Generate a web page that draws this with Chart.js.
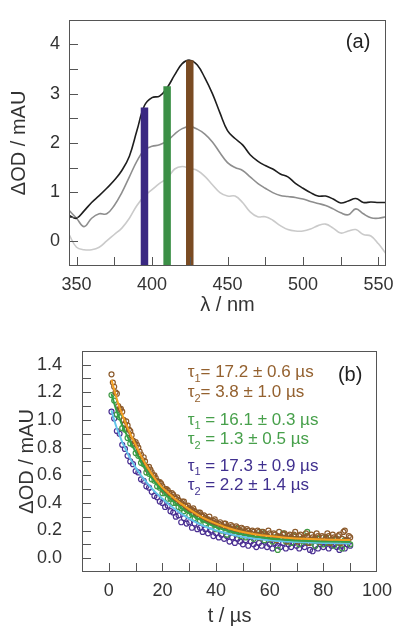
<!DOCTYPE html>
<html>
<head>
<meta charset="utf-8">
<script src="https://cdn.jsdelivr.net/npm/chart.js@4.4.1/dist/chart.umd.min.js"></script>
<style>
  html, body { margin: 0; padding: 0; background: #fff; }
  canvas { position: absolute; left: 0; }
  #espectros { top: 0; }
  #cineticas { top: 320px; }
</style>
</head>
<body>
<canvas id="espectros" width="405" height="320"></canvas>
<canvas id="cineticas" width="405" height="318"></canvas>
<script>
'use strict';

// ---- (a) espectros ----
const longitudes = [345, 350, 355, 360, 365, 370, 375, 380, 385, 390, 395, 400, 405, 410, 415, 420, 425, 430, 435, 440,
    445, 450, 455, 460, 465, 470, 475, 480, 485, 490, 495, 500, 505, 510, 515, 520, 525, 530, 535, 540, 545, 550, 555];
const espectroNegro = [0.53, 0.47, 0.62, 0.79, 0.93, 1.08, 1.24, 1.44, 1.73, 2.25, 2.76, 2.92, 2.95, 3.12, 3.38, 3.61, 3.68, 3.58, 3.32, 3.00,
    2.61, 2.25, 2.09, 1.96, 1.76, 1.63, 1.54, 1.47, 1.37, 1.31, 1.18, 1.08, 0.99, 0.92, 0.92, 0.86, 0.78, 0.82, 0.87, 0.79, 0.80, 0.79, 0.79];
const espectroGris = [0.63, 0.47, 0.30, 0.47, 0.56, 0.56, 0.73, 0.99, 1.31, 1.63, 1.86, 1.93, 1.96, 2.04, 2.18, 2.29, 2.33, 2.28, 2.18, 2.02,
    1.80, 1.60, 1.50, 1.44, 1.31, 1.18, 1.08, 0.99, 0.93, 0.91, 0.89, 0.86, 0.81, 0.77, 0.73, 0.66, 0.58, 0.54, 0.66, 0.56, 0.48, 0.47, 0.50];
const espectroClaro = [0.14, -0.12, -0.17, -0.17, -0.12, 0.01, 0.14, 0.27, 0.47, 0.73, 0.92, 1.05, 1.18, 1.28, 1.47, 1.52, 1.48, 1.44, 1.32, 1.15,
    0.99, 0.92, 0.92, 0.79, 0.60, 0.50, 0.50, 0.43, 0.32, 0.24, 0.21, 0.21, 0.25, 0.32, 0.35, 0.27, 0.17, 0.21, 0.24, 0.14, 0.11, -0.05, -0.25];

// bandas de deteccion
const bandasX = [395, 410, 425];
const bandasTope = [2.72, 3.15, 3.68];
const bandasColor = ['#3a2882', '#3b8f46', '#7a4b23'];

const ticksXA = [350, 400, 450, 500, 550];
const marcasXA = [350, 375, 400, 425, 450, 475, 500, 525, 550];
const ticksYA = [0, 1, 2, 3, 4];
const marcasYA = [0, 0.5, 1, 1.5, 2, 2.5, 3, 3.5, 4];

// ---- (b) cineticas ----
const tiempos = [1, 2, 3, 4, 5, 6, 7, 8, 9, 10, 11, 12, 13, 14, 15, 16, 17, 18, 19, 20,
    21, 22, 23, 24, 25, 26, 27, 28, 29, 30, 31, 32, 33, 34, 35, 36, 37, 38, 39, 40,
    41, 42, 43, 44, 45, 46, 47, 48, 49, 50, 51, 52, 53, 54, 55, 56, 57, 58, 59, 60,
    61, 62, 63, 64, 65, 66, 67, 68, 69, 70, 71, 72, 73, 74, 75, 76, 77, 78, 79, 80,
    81, 82, 83, 84, 85, 86, 87, 88, 89, 90];
const tiemposMedios = [1.5, 2.5, 3.5, 4.5, 5.5, 6.5, 7.5, 8.5, 9.5, 10.5, 11.5, 12.5, 13.5, 14.5, 15.5, 16.5, 17.5, 18.5, 19.5, 20.5,
    21.5, 22.5, 23.5, 24.5, 25.5, 26.5, 27.5, 28.5, 29.5, 30.5, 31.5, 32.5, 33.5, 34.5, 35.5, 36.5, 37.5, 38.5, 39.5, 40.5,
    41.5, 42.5, 43.5, 44.5, 45.5, 46.5, 47.5, 48.5, 49.5, 50.5, 51.5, 52.5, 53.5, 54.5, 55.5, 56.5, 57.5, 58.5, 59.5, 60.5,
    61.5, 62.5, 63.5, 64.5, 65.5, 66.5, 67.5, 68.5, 69.5, 70.5, 71.5, 72.5, 73.5, 74.5, 75.5, 76.5, 77.5, 78.5, 79.5, 80.5,
    81.5, 82.5, 83.5, 84.5, 85.5, 86.5, 87.5, 88.5, 89.5];
const puntosMarron = [1.33, 1.24, 1.19, 1.08, 1.06, 0.97, 0.96, 0.92, 0.85, 0.84, 0.80, 0.75, 0.73, 0.66, 0.66, 0.62, 0.60, 0.56, 0.55, 0.52,
    0.50, 0.49, 0.45, 0.46, 0.43, 0.42, 0.40, 0.41, 0.37, 0.36, 0.35, 0.34, 0.32, 0.33, 0.30, 0.29, 0.28, 0.27, 0.27, 0.26,
    0.25, 0.24, 0.25, 0.23, 0.22, 0.23, 0.21, 0.22, 0.20, 0.21, 0.19, 0.20, 0.18, 0.19, 0.17, 0.19, 0.17, 0.18, 0.16, 0.18,
    0.15, 0.17, 0.16, 0.15, 0.17, 0.14, 0.16, 0.15, 0.17, 0.14, 0.16, 0.13, 0.15, 0.16, 0.13, 0.15, 0.14, 0.16, 0.12, 0.15,
    0.14, 0.16, 0.13, 0.15, 0.12, 0.17, 0.14, 0.20, 0.13, 0.15];
const puntosMarronMedios = [1.27, 1.20, 1.10, 1.08, 1.00, 0.99, 0.93, 0.89, 0.83, 0.82, 0.77, 0.71, 0.70, 0.64, 0.64, 0.60, 0.58, 0.55, 0.54, 0.49,
    0.50, 0.47, 0.47, 0.44, 0.44, 0.40, 0.41, 0.38, 0.38, 0.35, 0.36, 0.32, 0.33, 0.31, 0.31, 0.28, 0.30, 0.26, 0.28, 0.24,
    0.26, 0.23, 0.25, 0.22, 0.24, 0.20, 0.23, 0.19, 0.22, 0.18, 0.21, 0.17, 0.20, 0.16, 0.20, 0.15, 0.19, 0.16, 0.20, 0.14,
    0.18, 0.13, 0.19, 0.15, 0.18, 0.12, 0.17, 0.14, 0.19, 0.12, 0.17, 0.14, 0.18, 0.11, 0.17, 0.13, 0.18, 0.12, 0.16, 0.13,
    0.18, 0.11, 0.17, 0.14, 0.16, 0.11, 0.19, 0.13, 0.16];
const puntosVerde = [1.18, 1.14, 1.04, 1.02, 0.94, 0.93, 0.87, 0.83, 0.82, 0.76, 0.74, 0.69, 0.68, 0.62, 0.61, 0.57, 0.56, 0.52, 0.51, 0.47,
    0.47, 0.43, 0.43, 0.40, 0.40, 0.37, 0.36, 0.34, 0.35, 0.31, 0.32, 0.29, 0.30, 0.27, 0.28, 0.25, 0.27, 0.23, 0.25, 0.21,
    0.23, 0.20, 0.22, 0.17, 0.21, 0.19, 0.18, 0.21, 0.16, 0.19, 0.15, 0.18, 0.16, 0.14, 0.17, 0.15, 0.19, 0.13, 0.16, 0.14,
    0.12, 0.15, 0.06, 0.14, 0.18, 0.12, 0.14, 0.11, 0.16, 0.13, 0.10, 0.14, 0.12, 0.19, 0.11, 0.13, 0.09, 0.14, 0.12, 0.10,
    0.15, 0.11, 0.13, 0.09, 0.14, 0.11, 0.07, 0.13, 0.12, 0.10];
const puntosMorado = [1.06, 1.01, 0.92, 0.90, 0.82, 0.79, 0.74, 0.70, 0.68, 0.63, 0.62, 0.57, 0.56, 0.52, 0.51, 0.48, 0.45, 0.44, 0.41, 0.40,
    0.37, 0.38, 0.34, 0.33, 0.30, 0.31, 0.26, 0.29, 0.25, 0.26, 0.22, 0.25, 0.21, 0.22, 0.19, 0.21, 0.18, 0.20, 0.16, 0.18,
    0.15, 0.17, 0.14, 0.16, 0.12, 0.15, 0.11, 0.14, 0.12, 0.10, 0.13, 0.09, 0.12, 0.10, 0.08, 0.11, 0.09, 0.12, 0.08, 0.10,
    0.07, 0.11, 0.09, 0.08, 0.11, 0.07, 0.10, 0.08, 0.11, 0.09, 0.07, 0.10, 0.08, 0.11, 0.06, 0.05, 0.09, 0.07, 0.10, 0.08,
    0.11, 0.07, 0.09, 0.10, 0.08, 0.06, 0.09, 0.07, 0.10, 0.09];

// ajustes biexponenciales
const tiemposAjuste = [1, 2, 3, 4, 5, 6, 8, 10, 12, 14, 16, 18, 20, 22, 25, 28, 31, 34, 37, 40, 45, 50, 55, 60, 65, 70, 75, 80, 85, 90];
const ajusteNaranja = [1.29, 1.22, 1.15, 1.09, 1.04, 0.99, 0.90, 0.82, 0.74, 0.67, 0.61, 0.555, 0.51, 0.475, 0.425, 0.38, 0.34, 0.305, 0.275, 0.25,
    0.215, 0.19, 0.172, 0.16, 0.15, 0.143, 0.138, 0.135, 0.133, 0.131];
const ajusteVerde = [1.19, 1.12, 1.06, 1.01, 0.96, 0.92, 0.84, 0.77, 0.70, 0.635, 0.58, 0.53, 0.485, 0.445, 0.395, 0.35, 0.31, 0.28, 0.25, 0.225,
    0.195, 0.172, 0.155, 0.143, 0.135, 0.128, 0.124, 0.121, 0.12, 0.119];
const ajusteCian = [1.07, 1.00, 0.94, 0.89, 0.84, 0.80, 0.72, 0.655, 0.60, 0.55, 0.505, 0.465, 0.43, 0.395, 0.35, 0.31, 0.275, 0.245, 0.22, 0.20,
    0.175, 0.155, 0.14, 0.13, 0.122, 0.117, 0.113, 0.11, 0.108, 0.107];

const ticksXB = [0, 20, 40, 60, 80, 100];
const marcasXB = [0, 10, 20, 30, 40, 50, 60, 70, 80, 90];
const ticksYB = [0, 0.2, 0.4, 0.6, 0.8, 1.0, 1.2, 1.4];
const etiquetasYB = ['0.0', '0.2', '0.4', '0.6', '0.8', '1.0', '1.2', '1.4'];
const marcasYB = [0, 0.1, 0.2, 0.3, 0.4, 0.5, 0.6, 0.7, 0.8, 0.9, 1.0, 1.1, 1.2, 1.3, 1.4];

// textos de los tiempos de vida
const subindices = ['1', '2', '1', '2', '1', '2'];
const textosTau = ['= 17.2 ± 0.6 µs', '= 3.8 ± 1.0 µs', ' = 16.1 ± 0.3 µs', ' = 1.3 ± 0.5 µs', ' = 17.3 ± 0.9 µs', ' = 2.2 ± 1.4 µs'];
const coloresTau = ['#94612f', '#94612f', '#47a04b', '#47a04b', '#40308f', '#40308f'];
const posTauY = [1.345, 1.2, 1.0, 0.86, 0.667, 0.525];
const posTauX = 29.4;

const familia = "'Liberation Sans', Arial, sans-serif";
const fuenteTicks = { family: familia, size: 18 };
const fuenteTitulo = { family: familia, size: 20 };
const colorTexto = '#333';

const puntos = (xs, ys) => xs.map((x, i) => ({ x: x, y: ys[i] }));

// marco y marcas hacia dentro
const marcoYMarcas = {
    id: 'marcoYMarcas',
    afterDatasetsDraw(chart, args, opts) {
        const { ctx, chartArea: a, scales } = chart;
        ctx.save();
        ctx.strokeStyle = '#555';
        ctx.lineWidth = 1;
        ctx.beginPath();
        opts.xMarcas.forEach(v => {
            const px = Math.round(scales.x.getPixelForValue(v)) + 0.5;
            ctx.moveTo(px, a.bottom);
            ctx.lineTo(px, a.bottom - opts.largo);
        });
        opts.yMarcas.forEach(v => {
            const py = Math.round(scales.y.getPixelForValue(v)) + 0.5;
            ctx.moveTo(a.left, py);
            ctx.lineTo(a.left + opts.largo, py);
        });
        ctx.stroke();
        ctx.strokeRect(Math.round(a.left) + 0.5, Math.round(a.top) + 0.5, Math.round(a.width) - 1, Math.round(a.height) - 1);
        ctx.restore();
    }
};

// rotulos (a), (b) y tiempos de vida
const rotulos = {
    id: 'rotulos',
    afterDraw(chart, args, opts) {
        const { ctx, scales } = chart;
        ctx.save();
        ctx.textBaseline = 'middle';
        opts.lista.forEach(r => {
            const x = scales.x.getPixelForValue(r.x);
            const y = scales.y.getPixelForValue(r.y);
            ctx.fillStyle = r.color;
            if (r.sub) {
                ctx.textAlign = 'left';
                ctx.font = r.tam + 'px ' + familia;
                ctx.fillText('τ', x, y);
                let w = ctx.measureText('τ').width;
                ctx.font = Math.round(r.tam * 0.62) + 'px ' + familia;
                ctx.fillText(r.sub, x + w, y + r.tam * 0.38);
                w += ctx.measureText(r.sub).width;
                ctx.font = r.tam + 'px ' + familia;
                ctx.fillText(r.texto, x + w, y);
            } else {
                ctx.textAlign = 'center';
                ctx.font = r.tam + 'px ' + familia;
                ctx.fillText(r.texto, x, y);
            }
        });
        ctx.restore();
    }
};

function ejeX(min, max, ticks, titulo, alto, padTitulo) {
    return {
        type: 'linear', min: min, max: max,
        grid: { display: false, drawTicks: false }, border: { display: false },
        afterBuildTicks: s => { s.ticks = ticks.map(v => ({ value: v })); },
        afterFit: s => { s.height = alto; },
        ticks: { padding: 8, font: fuenteTicks, color: colorTexto, maxRotation: 0, autoSkip: false },
        title: { display: true, text: titulo, font: fuenteTitulo, color: colorTexto, padding: { top: 0, bottom: padTitulo } }
    };
}

function ejeY(min, max, ticks, etiquetas, ancho, padTicks, padTitulo) {
    return {
        type: 'linear', min: min, max: max,
        grid: { display: false, drawTicks: false }, border: { display: false },
        afterBuildTicks: s => { s.ticks = ticks.map(v => ({ value: v })); },
        afterFit: s => { s.width = ancho; },
        ticks: { padding: padTicks, font: fuenteTicks, color: colorTexto, autoSkip: false,
            callback: v => etiquetas[ticks.indexOf(v)] },
        title: { display: true, text: 'ΔOD / mAU', font: fuenteTitulo, color: colorTexto, padding: { top: padTitulo, bottom: 0 } }
    };
}

const yMinA = -0.5;

const datosBandas = bandasX.map((x, i) => ({
    label: 'banda ' + x,
    data: [{ x: x, y: yMinA }, { x: x, y: bandasTope[i] }],
    borderColor: bandasColor[i],
    borderWidth: 7.5,
    pointRadius: 0,
    tension: 0,
    order: 0
}));

const graficaEspectros = new Chart(document.getElementById('espectros'), {
    type: 'line',
    data: {
        datasets: datosBandas.concat([
            { label: 'negro', data: puntos(longitudes, espectroNegro), borderColor: '#1e1e1e', borderWidth: 1.6, pointRadius: 0, tension: 0.4, order: 1 },
            { label: 'gris', data: puntos(longitudes, espectroGris), borderColor: '#8e8e8e', borderWidth: 1.6, pointRadius: 0, tension: 0.4, order: 2 },
            { label: 'claro', data: puntos(longitudes, espectroClaro), borderColor: '#cacaca', borderWidth: 1.6, pointRadius: 0, tension: 0.4, order: 3 }
        ])
    },
    options: {
        responsive: false,
        animation: false,
        layout: { padding: { top: 9, right: 19, left: 0, bottom: 0 } },
        plugins: {
            legend: { display: false },
            tooltip: { enabled: false },
            marcoYMarcas: { xMarcas: marcasXA, yMarcas: marcasYA, largo: 9 },
            rotulos: { lista: [{ x: 536.5, y: 4.04, texto: '(a)', color: '#222', tam: 20 }] }
        },
        scales: {
            x: ejeX(345, 555, ticksXA, 'λ / nm', 54, 3),
            y: ejeY(yMinA, 4.5, ticksYA, ticksYA.map(String), 69, 9, 7)
        }
    },
    plugins: [marcoYMarcas, rotulos]
});

const listaTau = textosTau.map((t, i) => ({
    x: posTauX, y: posTauY[i], sub: subindices[i], texto: t, color: coloresTau[i], tam: 17
}));
listaTau.push({ x: 90, y: 1.325, texto: '(b)', color: '#222', tam: 20 });

const estiloPuntos = color => ({
    showLine: false, pointRadius: 2.5, pointBorderWidth: 1.2,
    pointBorderColor: color, pointBackgroundColor: 'rgba(255,255,255,0)', borderColor: color
});

const graficaCineticas = new Chart(document.getElementById('cineticas'), {
    type: 'line',
    data: {
        datasets: [
            { label: 'ajuste 425', data: puntos(tiemposAjuste, ajusteNaranja), borderColor: '#f4a022', borderWidth: 2, pointRadius: 0, tension: 0.3 },
            { label: 'ajuste 410', data: puntos(tiemposAjuste, ajusteVerde), borderColor: '#33a047', borderWidth: 2, pointRadius: 0, tension: 0.3 },
            { label: 'ajuste 395', data: puntos(tiemposAjuste, ajusteCian), borderColor: '#62c4ea', borderWidth: 2, pointRadius: 0, tension: 0.3 },
            Object.assign({ label: '425 nm', data: puntos(tiempos, puntosMarron) }, estiloPuntos('#8c5a2b')),
            Object.assign({ label: '425 nm b', data: puntos(tiemposMedios, puntosMarronMedios) }, estiloPuntos('#8c5a2b')),
            Object.assign({ label: '410 nm', data: puntos(tiempos, puntosVerde) }, estiloPuntos('#3f9a45')),
            Object.assign({ label: '395 nm', data: puntos(tiempos, puntosMorado) }, estiloPuntos('#4a2f92'))
        ]
    },
    options: {
        responsive: false,
        animation: false,
        layout: { padding: { top: 11, right: 28, left: 0, bottom: 0 } },
        plugins: {
            legend: { display: false },
            tooltip: { enabled: false },
            marcoYMarcas: { xMarcas: marcasXB, yMarcas: marcasYB, largo: 9 },
            rotulos: { lista: listaTau }
        },
        scales: {
            x: ejeX(-10, 100, ticksXB, 't / µs', 66, 10),
            y: ejeY(-0.1, 1.5, ticksYB, etiquetasYB, 82, 20, 15)
        }
    },
    plugins: [marcoYMarcas, rotulos]
});
</script>
</body>
</html>
